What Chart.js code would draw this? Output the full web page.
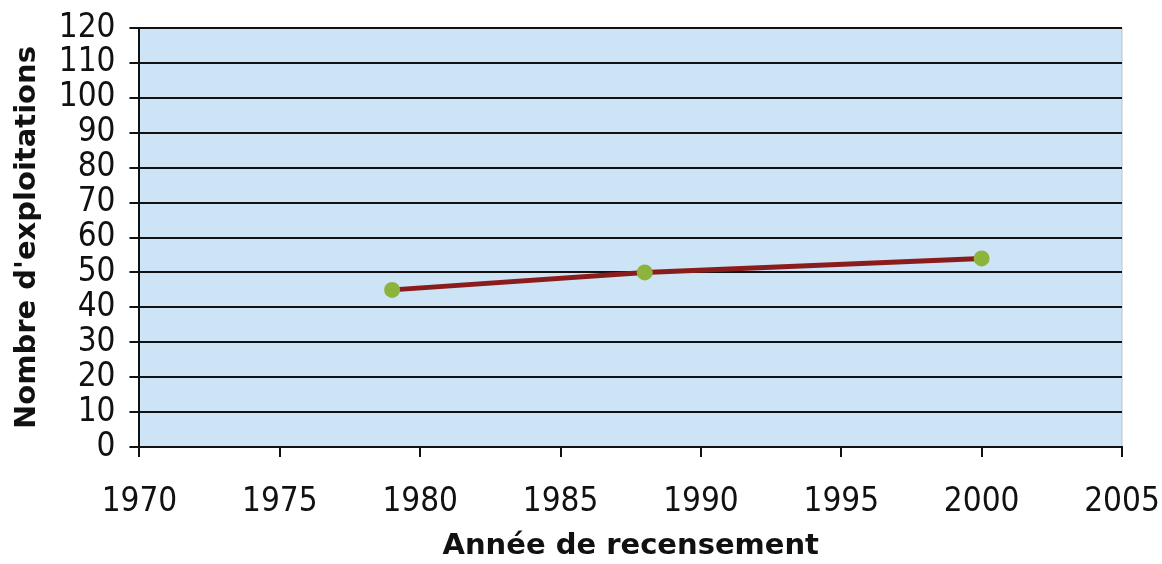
<!DOCTYPE html>
<html>
<head>
<meta charset="utf-8">
<script src="https://cdn.jsdelivr.net/npm/chart.js@4/dist/chart.umd.min.js"></script>
<style>
  html, body { margin: 0; padding: 0; background: #fff; }
  #wrap { width: 1162px; height: 564px; }
</style>
</head>
<body>
<div id="wrap"><canvas id="chart"></canvas></div>
<script>
// census years and number of farms
const years = [1979, 1988, 2000];
const farms = [45, 50, 54];

const xTitle = 'Année de recensement';
const yTitle = "Nombre d'exploitations";

const tickFont = { family: "'DejaVu Sans Condensed', 'DejaVu Sans', sans-serif", size: 33, lineHeight: 1 };
const titleFont = { family: "'DejaVu Sans', sans-serif", size: 29, weight: 'bold' };

// light blue plot background with a thin grey frame
const plotBackground = {
    id: 'plotBackground',
    beforeDraw(chart) {
        const { ctx, chartArea: a } = chart;
        ctx.save();
        ctx.fillStyle = '#cde3f6';
        ctx.fillRect(a.left, a.top, a.right - a.left, a.bottom - a.top);
        ctx.strokeStyle = '#b9c4cc';
        ctx.lineWidth = 1;
        ctx.strokeRect(a.left, a.top, a.right - a.left, a.bottom - a.top);
        ctx.restore();
    }
};

new Chart(document.getElementById('chart').getContext('2d'), {
    type: 'line',
    data: {
        datasets: [{
            data: years.map((y, i) => ({ x: y, y: farms[i] })),
            borderColor: '#8b1c1c',
            borderWidth: 5,
            pointRadius: 8,
            pointBackgroundColor: '#8cb43c',
            pointBorderWidth: 0,
            tension: 0
        }]
    },
    options: {
        responsive: true,
        maintainAspectRatio: false,
        animation: false,
        layout: { padding: { left: 4, right: 0, top: 0, bottom: 0 } },
        plugins: {
            legend: { display: false },
            tooltip: { enabled: false }
        },
        scales: {
            x: {
                type: 'linear',
                min: 1970,
                max: 2005,
                afterFit: scale => { scale.paddingRight = 40; scale.height = 117; },
                ticks: { stepSize: 5, autoSkip: false, maxRotation: 0, color: '#111', font: tickFont, padding: 29, callback: v => String(v) },
                grid: { display: true, drawOnChartArea: false, color: '#111', lineWidth: 2, tickLength: 10 },
                border: { color: '#111', width: 2 },
                title: { display: true, text: xTitle, color: '#111', font: titleFont, padding: { top: 4, bottom: 0 } }
            },
            y: {
                min: 0,
                max: 120,
                afterFit: scale => { scale.paddingTop = 28; },
                ticks: { stepSize: 10, autoSkip: false, color: '#111', font: tickFont, padding: 14 },
                grid: { color: '#111', lineWidth: 2, tickLength: 10 },
                border: { color: '#111', width: 2 },
                title: { display: true, text: yTitle, color: '#111', font: titleFont, padding: { top: 6, bottom: 0 } }
            }
        }
    },
    plugins: [plotBackground]
});
</script>
</body>
</html>
